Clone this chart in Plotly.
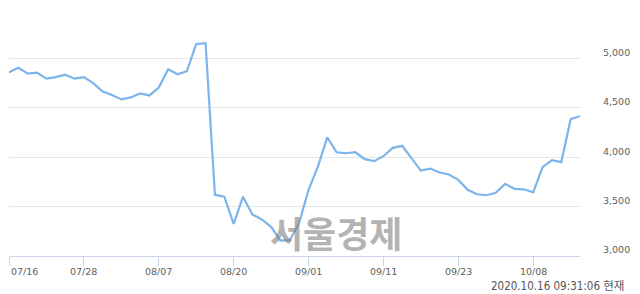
import plotly.graph_objects as go

dates = ["07/16", "07/17", "07/20", "07/21", "07/22", "07/23", "07/24", "07/27", "07/28", "07/29",
         "07/30", "07/31", "08/03", "08/04", "08/05", "08/06", "08/07", "08/10", "08/11", "08/12",
         "08/13", "08/14", "08/18", "08/19", "08/20", "08/21", "08/24", "08/25", "08/26", "08/27",
         "08/28", "08/31", "09/01", "09/02", "09/03", "09/04", "09/07", "09/08", "09/09", "09/10",
         "09/11", "09/14", "09/15", "09/16", "09/17", "09/18", "09/21", "09/22", "09/23", "09/24",
         "09/25", "09/28", "09/29", "10/05", "10/06", "10/07", "10/08", "10/12", "10/13", "10/14",
         "10/15", "10/16"]

prices = [4860, 4905, 4845, 4855, 4795, 4810, 4835, 4795, 4810, 4750,
          4665, 4630, 4585, 4605, 4645, 4625, 4705, 4890, 4840, 4870,
          5145, 5155, 3620, 3600, 3325, 3600, 3420, 3370, 3295, 3155,
          3160, 3335, 3670, 3905, 4200, 4050, 4040, 4050, 3980, 3960,
          4010, 4095, 4115, 3990, 3865, 3885, 3845, 3825, 3770, 3670,
          3625, 3615, 3640, 3730, 3680, 3675, 3645, 3900, 3970, 3950,
          4385, 4415]

x_tick_labels = ["07/16", "07/28", "08/07", "08/20", "09/01", "09/11", "09/23", "10/08"]
y_tick_vals = [3000, 3500, 4000, 4500, 5000, 5500]
y_tick_text = ["3,000", "3,500", "4,000", "4,500", "5,000", ""]

footer_text = "2020.10.16 09:31:06 현재"
watermark_text = "서울경제"

fig = go.Figure()
fig.add_trace(go.Scatter(
    x=dates, y=prices, mode="lines",
    line=dict(color="#7cb5ec", width=2.2),
    hoverinfo="skip",
))

tick_font = dict(family="DejaVu Sans", size=9.5, color="#606060")

# x tick labels as annotations (first one left-aligned, like the reference)
for i, lab in enumerate(x_tick_labels):
    fig.add_annotation(
        x=lab, xref="x", y=-0.061, yref="paper",
        text=lab, showarrow=False,
        xanchor="left" if i == 0 else "center", yanchor="middle",
        font=tick_font,
    )

fig.add_annotation(
    x=0.572, xref="paper", y=0.098, yref="paper",
    text="<b>" + watermark_text + "</b>", showarrow=False,
    xanchor="center", yanchor="middle",
    font=dict(family="Noto Sans CJK KR", size=36, color="rgba(128,128,128,0.6)"),
)

fig.add_annotation(
    x=1.08, xref="paper", y=-0.121, yref="paper",
    text=footer_text, showarrow=False,
    xanchor="right", yanchor="middle",
    font=dict(family="DejaVu Sans Condensed, DejaVu Sans, Noto Sans CJK KR", size=11.5, color="#555555"),
)

fig.update_layout(
    width=640, height=294,
    margin=dict(l=9, r=60, t=9, b=38),
    paper_bgcolor="white", plot_bgcolor="white",
    showlegend=False,
    xaxis=dict(
        type="category",
        range=[0, len(dates) - 1],
        tickvals=x_tick_labels,
        showticklabels=False,
        ticks="outside", ticklen=9, tickcolor="#ccd6eb", tickwidth=1,
        showline=True, linecolor="#ccd6eb", linewidth=1,
        showgrid=False, zeroline=False, fixedrange=True,
    ),
    yaxis=dict(
        side="right",
        range=[3000, 5500],
        tickvals=y_tick_vals, ticktext=y_tick_text,
        showgrid=True, gridcolor="#e6e6e6", gridwidth=1,
        zeroline=False, showline=False, ticks="",
        tickfont=tick_font,
        ticklabelstandoff=22, ticklabelshift=-6,
        fixedrange=True,
    ),
)

fig.write_html("out.html", config={"displayModeBar": False})
